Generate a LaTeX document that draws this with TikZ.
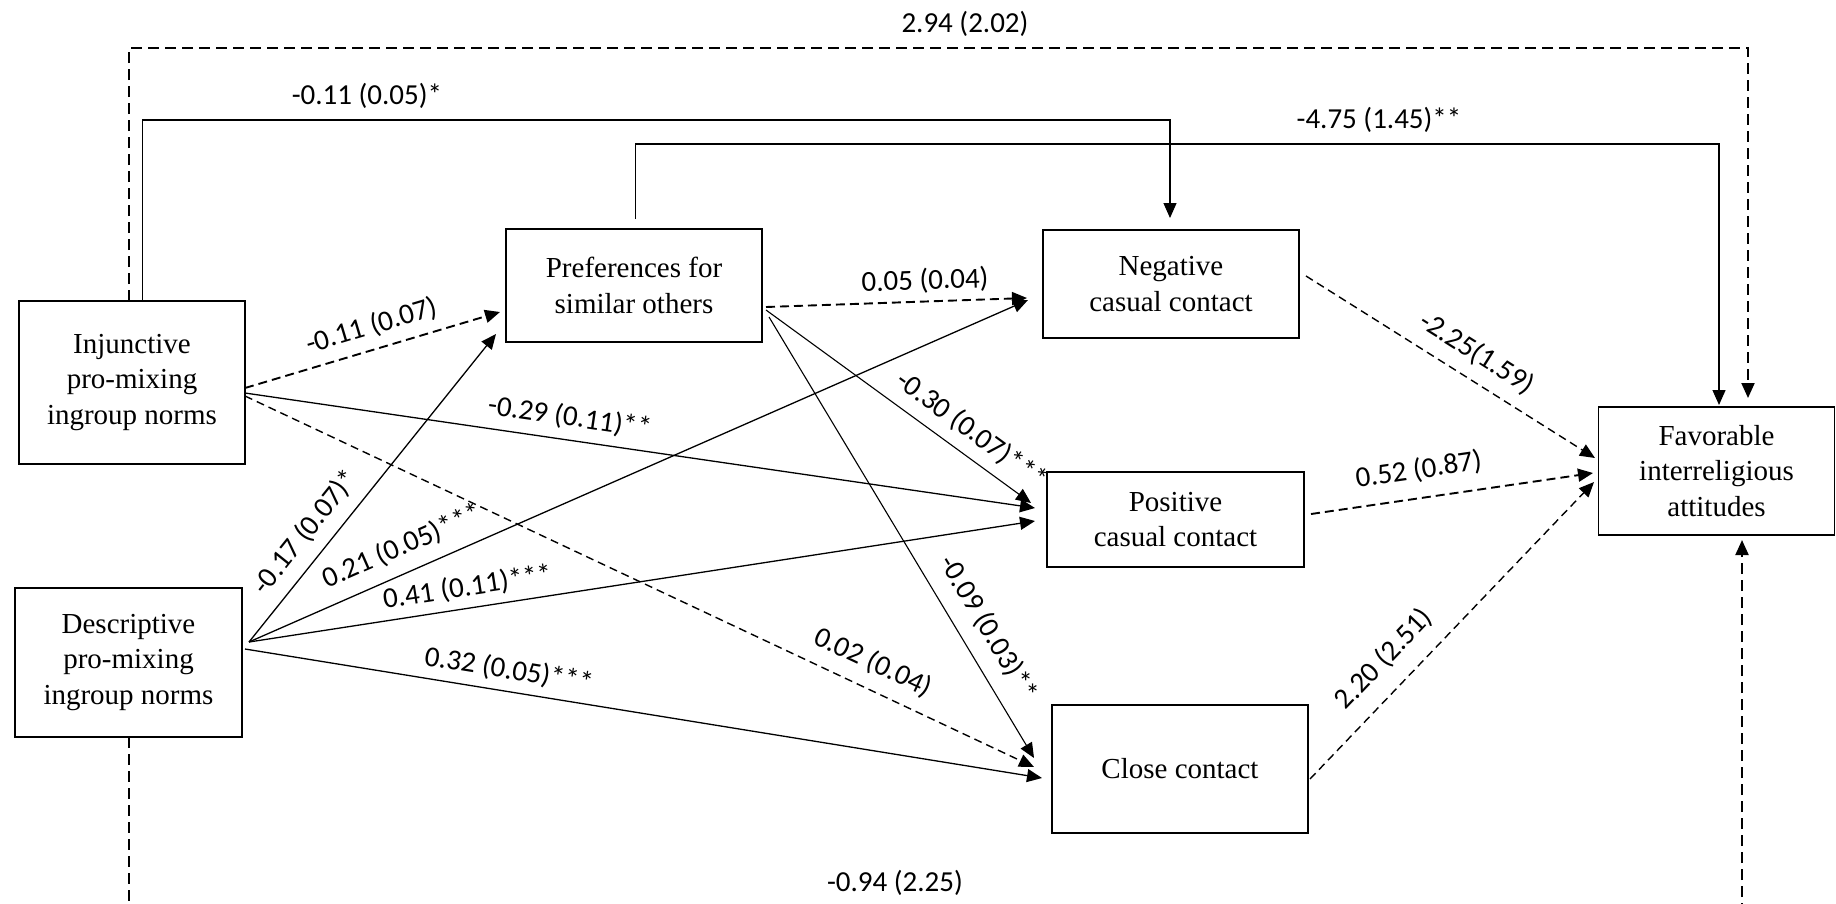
\documentclass[tikz,border=0pt]{standalone}
\usepackage{fontspec}
\setmainfont{Liberation Serif}
\newfontfamily\labfont{Carlito}
\usetikzlibrary{arrows.meta,calc}
\begin{document}
\begin{tikzpicture}[x=1pt,y=-1pt,
  box/.style={draw, line width=1.3pt, align=center, inner sep=0pt, outer sep=0pt, font=\fontsize{29}{35.5}\selectfont},
  lab/.style={font=\labfont\fontsize{29}{34}\selectfont, inner sep=0pt, text height=21pt, text depth=6pt},
  sl/.style={lab, sloped, above=#1},
  tip/.style={-{Triangle[length=15pt,width=13pt]}},
  sol/.style={tip, line width=1.3pt},
  dsh/.style={tip, line width=1.9pt, dash pattern=on 9pt off 5pt},
  ldsh/.style={tip, line width=1.4pt, dash pattern=on 8pt off 5pt},
  bigdsh/.style={tip, line width=2pt, dash pattern=on 11pt off 6pt},
]
\useasboundingbox (0,0) rectangle (1836,903);
\fill[white] (0,0) rectangle (1836,903);
\clip (0,0) rectangle (1836,903);

% boxes
\node[box, minimum width=226, minimum height=163] (inj) at (132,382.5) {Injunctive\\pro-mixing\\ingroup norms};
\node[box, minimum width=227, minimum height=149] (desc) at (128.5,662.5) {Descriptive\\pro-mixing\\ingroup norms};
\node[box, minimum width=256, minimum height=113] (pref) at (634,285.5) {Preferences for\\similar others};
\node[box, minimum width=256, minimum height=108] (neg) at (1171,284) {Negative\\casual contact};
\node[box, minimum width=257, minimum height=95] (pos) at (1175.5,519.5) {Positive\\casual contact};
\node[box, minimum width=256, minimum height=128] (close) at (1180,769) {Close contact};
\node[box, minimum width=236, minimum height=128] (fav) at (1716.5,471) {Favorable\\interreligious\\attitudes};

% long routed connectors
\draw[bigdsh] ($(inj.north)+(-3,0)$) -- ++(0,-253) -| ($(fav.north)+(31.5,-9)$);
\draw[sol] ($(inj.north)+(10.6,0)$) -- ++(0,-181) -| ($(neg.north)+(-1,-12)$);
\draw[sol] ($(pref.north)+(1.6,-10)$) -- ++(0,-75) -| ($(fav.north)+(2.5,-2)$);
\draw[bigdsh] ($(desc.south)+(0.5,0)$) -- ++(0,200) -| ($(fav.south)+(25.5,5)$);

\node[lab] (ltop) at (965,25) {2.94 (2.02)};
\node[lab] (linjneg) at (367,97) {-0.11 (0.05)*};
\node[lab] (lpreffav) at (1379,121) {-4.75 (1.45)**};
\node[lab] (ldescfav) at (895,884) {-0.94 (2.25)};

% from injunctive norms
\draw[dsh] ($(inj.east)+(0,5.5)$) -- node[sl=7.7pt, pos=0.523] (l1) {-0.11 (0.07)} ($(pref.west)+(-6,26.5)$);
\draw[sol] ($(inj.east)+(0,10.5)$) -- node[sl=7.5pt, pos=0.407] (l2) {-0.29 (0.11)**} ($(pos.west)+(-12,-11.5)$);
\draw[ldsh] ($(inj.east)+(0,13.5)$) -- node[sl=10.9pt, pos=0.782] (l3) {0.02 (0.04)} ($(close.west)+(-18,-2)$);

% from descriptive norms
\draw[sol] ($(desc.east)+(7,-20.5)$) -- node[sl=9.4pt, pos=0.307] (l4) {-0.17 (0.07)*} ($(pref.west)+(-10,48.5)$);
\draw[sol] ($(desc.east)+(7,-20.5)$) -- node[sl=10.6pt, pos=0.21] (l5) {0.21 (0.05)***} ($(neg.west)+(-15,16)$);
\draw[sol] ($(desc.east)+(7,-20.5)$) -- node[sl=5.6pt, pos=0.282] (l6) {0.41 (0.11)***} ($(pos.west)+(-12,1.5)$);
\draw[sol] ($(desc.east)+(3,-13.5)$) -- node[sl=6pt, pos=0.327] (l7) {0.32 (0.05)***} ($(close.west)+(-10,9)$);

% from preferences
\draw[dsh] ($(pref.east)+(4,21.5)$) -- node[sl=5pt, pos=0.612] (l8) {0.05 (0.04)} ($(neg.west)+(-16,14)$);
\draw[sol, line width=1.1pt] ($(pref.east)+(4,24.5)$) -- node[sl=8.5pt, pos=0.723] (l9) {-0.30 (0.07)***} ($(pos.west)+(-16,-16.5)$);
\draw[sol, line width=1.1pt] ($(pref.east)+(7,31.5)$) -- node[sl=12.6pt, pos=0.738] (l10) {-0.09 (0.03)**} ($(close.west)+(-18,-11)$);

% to favorable attitudes
\draw[ldsh] ($(neg.east)+(7,-8)$) -- node[sl=10.3pt, pos=0.544] (l11) {-2.25(1.59)} ($(fav.west)+(-3.5,-13)$);
\draw[dsh] ($(pos.east)+(7,-5.5)$) -- node[sl=12.5pt, pos=0.396] (l12) {0.52 (0.87)} ($(fav.west)+(-5.5,2)$);
\draw[ldsh] ($(close.east)+(2,10)$) -- node[sl=14.5pt, pos=0.335] (l13) {2.20 (2.51)} ($(fav.west)+(-4.5,11)$);
\end{tikzpicture}
\end{document}
